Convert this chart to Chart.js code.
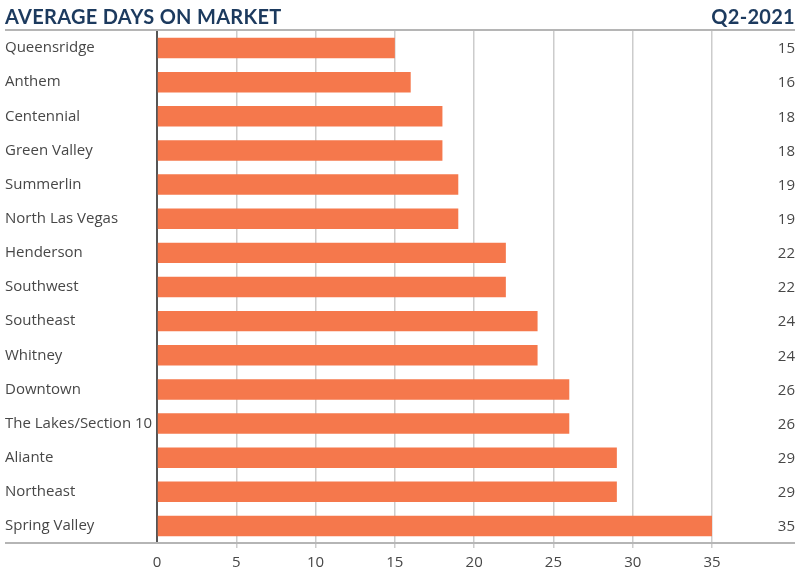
<!DOCTYPE html>
<html>
<head>
<meta charset="utf-8">
<script src="https://cdn.jsdelivr.net/npm/chart.js@4"></script>
<style>
  body { margin: 0; background: #fff; }
  #wrap { position: relative; width: 800px; height: 579px; }
  .head { position: absolute; top: 4px; font-family: Lato, sans-serif; font-weight: 700;
          font-size: 20px; letter-spacing: 0.3px; color: #1c3a5e; }
  #title { left: 5px; }
  #period { right: 5px; letter-spacing: 0.3px; }
</style>
</head>
<body>
<div id="wrap">
  <canvas id="marketChart"></canvas>
  <div class="head" id="title">AVERAGE DAYS ON MARKET</div>
  <div class="head" id="period">Q2-2021</div>
</div>
<script>
const areas = ['Queensridge', 'Anthem', 'Centennial', 'Green Valley', 'Summerlin',
  'North Las Vegas', 'Henderson', 'Southwest', 'Southeast', 'Whitney', 'Downtown',
  'The Lakes/Section 10', 'Aliante', 'Northeast', 'Spring Valley'];
const daysOnMarket = [15, 16, 18, 18, 19, 19, 22, 22, 24, 24, 26, 26, 29, 29, 35];
const xTicks = [0, 5, 10, 15, 20, 25, 30, 35];

const textColor = '#474747';
const fontFamily = '"Open Sans", sans-serif';

// frame lines under the title and along the bottom, plus the value column on the right
const framePlugin = {
    id: 'frame',
    afterDraw(chart) {
        const ctx = chart.ctx;
        const area = chart.chartArea;
        ctx.save();
        ctx.strokeStyle = '#b5b5b5';
        ctx.lineWidth = 2;
        ctx.beginPath();
        ctx.moveTo(5, area.top - 1);
        ctx.lineTo(795, area.top - 1);
        ctx.moveTo(5, area.bottom);
        ctx.lineTo(795, area.bottom);
        ctx.stroke();

        ctx.fillStyle = textColor;
        ctx.font = '15px ' + fontFamily;
        ctx.textAlign = 'right';
        ctx.textBaseline = 'middle';
        const meta = chart.getDatasetMeta(0);
        meta.data.forEach(function(bar, i) {
            ctx.fillText(daysOnMarket[i], 795, bar.y + 1);
        });
        ctx.restore();
    }
};

const ctx = document.getElementById('marketChart').getContext('2d');
new Chart(ctx, {
    type: 'bar',
    data: {
        labels: areas,
        datasets: [{
            data: daysOnMarket,
            backgroundColor: '#f5784c',
            borderWidth: 0,
            barPercentage: 0.6,
            categoryPercentage: 1.0
        }]
    },
    options: {
        indexAxis: 'y',
        responsive: true,
        maintainAspectRatio: false,
        animation: false,
        layout: {
            padding: { left: 5, right: 88, top: 31, bottom: 0 }
        },
        plugins: {
            legend: { display: false },
            tooltip: { enabled: false }
        },
        scales: {
            x: {
                min: 0,
                max: 35,
                afterBuildTicks: function(scale) {
                    scale.ticks = xTicks.map(function(v) { return { value: v }; });
                },
                afterFit: function(scale) { scale.height = 36; },
                border: { display: false },
                grid: {
                    color: function(c) { return c.tick && c.tick.value === 0 ? 'rgba(0,0,0,0)' : '#cccccc'; },
                    lineWidth: 1.5,
                    tickLength: 5,
                    drawOnChartArea: true
                },
                ticks: {
                    color: textColor,
                    font: { family: fontFamily, size: 15 },
                    padding: 6,
                    maxRotation: 0
                }
            },
            y: {
                afterFit: function(scale) { scale.width = 152; },
                border: { display: true, color: '#555', width: 2 },
                grid: { display: false },
                ticks: {
                    crossAlign: 'far',
                    color: textColor,
                    font: { family: fontFamily, size: 15 },
                    autoSkip: false
                }
            }
        }
    },
    plugins: [framePlugin]
});
</script>
</body>
</html>
